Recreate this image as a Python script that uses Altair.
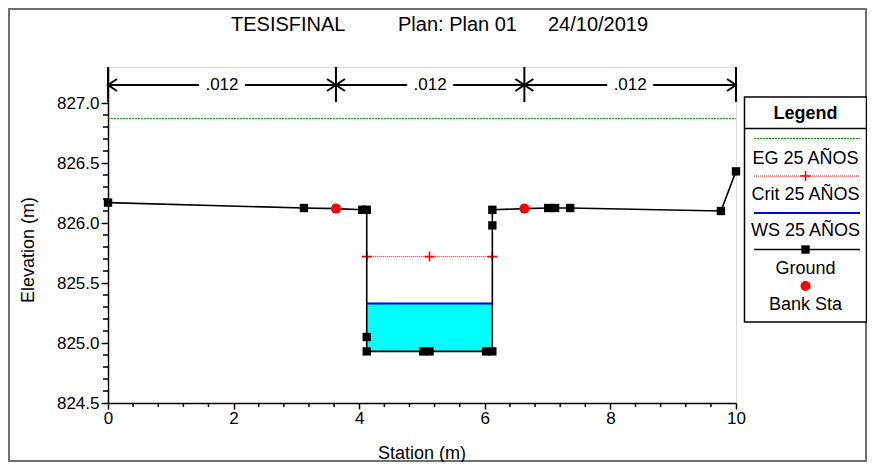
import altair as alt
import pandas as pd

FONT = "Liberation Sans"

# ---------------- data ----------------
ground_station = [0.0, 3.12, 3.63, 4.05, 4.12, 4.12, 4.12, 5.02, 5.12, 6.02, 6.12,
                  6.12, 6.12, 6.63, 7.01, 7.12, 7.36, 9.76, 10.0]
ground_elev = [826.17, 826.125, 826.12, 826.11, 826.11, 825.05, 824.93, 824.93, 824.93,
               824.93, 824.93, 825.98, 826.11, 826.12, 826.125, 826.125, 826.125,
               826.10, 826.43]

bank_station = [3.63, 6.63]
bank_elev = [826.12, 826.12]

eg_station = [0.0, 10.0]
eg_elev = [826.87, 826.87]

crit_station = [4.12, 5.12, 6.12]
crit_elev = [825.72, 825.72, 825.72]

ws_station = [4.12, 6.12]
ws_elev = [825.33, 825.33]
channel_bottom = [824.93, 824.93]

n_breaks = [0.0, 3.63, 6.63, 10.0]
n_values = [".012", ".012", ".012"]

x_ticks = [0, 2, 4, 6, 8, 10]
x_minor = [0.4, 0.8, 1.2, 1.6, 2.4, 2.8, 3.2, 3.6, 4.4, 4.8, 5.2, 5.6,
           6.4, 6.8, 7.2, 7.6, 8.4, 8.8, 9.2, 9.6]
y_ticks = [824.5, 825.0, 825.5, 826.0, 826.5, 827.0]
y_minor = [824.6, 824.7, 824.8, 824.9, 825.1, 825.2, 825.3, 825.4, 825.6, 825.7,
           825.8, 825.9, 826.1, 826.2, 826.3, 826.4, 826.6, 826.7, 826.8, 826.9]

legend_labels = ["EG 25 AÑOS", "Crit 25 AÑOS", "WS 25 AÑOS", "Ground", "Bank Sta"]

# ---------------- tables ----------------
ground_df = pd.DataFrame({"station": ground_station, "elev": ground_elev,
                          "i": list(range(len(ground_station)))})
ground_df["marker"] = ~ground_df["station"].isin(bank_station)
bank_df = pd.DataFrame({"station": bank_station, "elev": bank_elev})
eg_df = pd.DataFrame({"station": eg_station, "elev": eg_elev})
crit_df = pd.DataFrame({"station": crit_station, "elev": crit_elev})
ws_df = pd.DataFrame({"station": ws_station, "elev": ws_elev, "bottom": channel_bottom})
n_df = pd.DataFrame({"start": n_breaks[:-1], "end": n_breaks[1:], "label": n_values})
n_df["mid"] = (n_df["start"] + n_df["end"]) / 2
breaks_df = pd.DataFrame({"station": n_breaks})
xminor_df = pd.DataFrame({"station": x_minor})
yminor_df = pd.DataFrame({"elev": y_minor})
one = pd.DataFrame({"k": [0]})

W, H = 628, 336
xscale = alt.Scale(domain=[0, 10], nice=False, zero=False)
yscale = alt.Scale(domain=[824.5, 827.3], nice=False, zero=False)

xaxis = alt.Axis(values=x_ticks, tickSize=6, tickWidth=1.5, domainWidth=1.5,
                 domainColor="black", tickColor="black", labelFont=FONT,
                 labelFontSize=17, labelColor="black", labelPadding=1, grid=False,
                 title=None, labelFlush=False, format="d")
yaxis = alt.Axis(values=y_ticks, tickSize=7, tickWidth=1.5, domainWidth=1.5,
                 domainColor="black", tickColor="black", labelFont=FONT,
                 labelFontSize=17, labelColor="black", labelPadding=2, grid=False,
                 title=None, format=".1f")


def X(f="station"):
    return alt.X(f"{f}:Q", scale=xscale, axis=xaxis, title=None)


def Y(f="elev"):
    return alt.Y(f"{f}:Q", scale=yscale, axis=yaxis, title=None)


layers = []

# EG line (also carries both axes)
layers.append(alt.Chart(eg_df).mark_line(color="#00a000", strokeWidth=1, strokeDash=[2, 1]).encode(
    x=X(), y=Y()))

# outer frame
layers.append(alt.Chart(one).mark_rect(filled=False, stroke="#707070", strokeWidth=2).encode(
    x=alt.value(-99), x2=alt.value(758), y=alt.value(-58), y2=alt.value(394)))

# WS fill + line
layers.append(alt.Chart(ws_df).mark_area(color="#00ffff", opacity=1).encode(
    x=X(), y=Y(), y2="bottom:Q"))
layers.append(alt.Chart(ws_df).mark_line(color="#0000ff", strokeWidth=2).encode(
    x=X(), y=Y()))

# Crit line
layers.append(alt.Chart(crit_df).mark_line(color="#ff0000", strokeWidth=1, strokeDash=[1, 1]).encode(
    x=X(), y=Y()))
PLUS = "M -1 0 L 1 0 M 0 -1 L 0 1"
layers.append(alt.Chart(crit_df).mark_point(shape=PLUS, filled=False, color="#ff0000",
                                            strokeWidth=1.6, size=100, opacity=1).encode(
    x=X(), y=Y()))

# Ground
layers.append(alt.Chart(ground_df).mark_line(color="black", strokeWidth=1.6).encode(
    x=X(), y=Y(), order="i:Q"))
layers.append(alt.Chart(ground_df).transform_filter("datum.marker").mark_point(
    shape="square", filled=True, color="black", size=70, opacity=1).encode(x=X(), y=Y()))
# Bank stations
layers.append(alt.Chart(bank_df).mark_point(shape="circle", filled=True, color="#ff0000",
                                            size=100, opacity=1).encode(x=X(), y=Y()))

# minor ticks
layers.append(alt.Chart(yminor_df).mark_rule(color="black", strokeWidth=1.5).encode(
    y=Y(), x=alt.value(-5), x2=alt.value(0)))
layers.append(alt.Chart(xminor_df).mark_rule(color="black", strokeWidth=1.5).encode(
    x=X(), y=alt.value(H), y2=alt.value(H + 4)))

# Manning's n annotation
layers.append(alt.Chart(breaks_df).mark_rule(color="black", strokeWidth=2).encode(
    x=X(), y=alt.value(0), y2=alt.value(35)))
layers.append(alt.Chart(n_df).mark_rule(color="black", strokeWidth=2).encode(
    x=X("start"), x2="end:Q", y=alt.value(18)))
RECT = "M -1 -0.25 L 1 -0.25 L 1 0.25 L -1 0.25 Z"
layers.append(alt.Chart(n_df).mark_point(shape=RECT, filled=True, color="white",
                                         size=2116, opacity=1, strokeWidth=0).encode(
    x=X("mid"), y=alt.value(18)))
layers.append(alt.Chart(n_df).mark_text(font=FONT, fontSize=17, color="black",
                                        baseline="middle", align="center").encode(
    x=X("mid"), y=alt.value(18), text="label:N"))
LEFT_HEAD = "M 1.5 -1 L 0 0 L 1.5 1"
RIGHT_HEAD = "M -1.5 -1 L 0 0 L -1.5 1"
layers.append(alt.Chart(n_df).mark_point(shape=LEFT_HEAD, filled=False, color="black",
                                         strokeWidth=2, size=144, opacity=1).encode(
    x=X("start"), y=alt.value(18)))
layers.append(alt.Chart(n_df).mark_point(shape=RIGHT_HEAD, filled=False, color="black",
                                         strokeWidth=2, size=144, opacity=1).encode(
    x=X("end"), y=alt.value(18)))


def txt(s, x, y, size=17, align="center", weight="normal", angle=0):
    return alt.Chart(one).mark_text(text=s, fontSize=size, font=FONT, align=align,
                                    baseline="middle", fontWeight=weight, angle=angle,
                                    color="black").encode(x=alt.value(x), y=alt.value(y))


# titles
layers.append(txt("TESISFINAL", 123, -42, size=20, align="left"))
layers.append(txt("Plan: Plan 01", 290, -42, size=20, align="left"))
layers.append(txt("24/10/2019", 440, -42, size=20, align="left"))
layers.append(txt("Station (m)", W / 2, 387, size=18))
layers.append(txt("Elevation (m)", -79, 183, size=18, angle=270))

# legend
LX0, LX1, LC = 636.5, 758.5, 697.5
layers.append(alt.Chart(one).mark_rect(fill="white", stroke="black", strokeWidth=1.5).encode(
    x=alt.value(LX0), x2=alt.value(LX1), y=alt.value(30), y2=alt.value(255)))
layers.append(alt.Chart(one).mark_rule(color="black", strokeWidth=1.5).encode(
    x=alt.value(LX0), x2=alt.value(LX1), y=alt.value(61.5)))
layers.append(txt("Legend", LC, 47, size=18, weight="bold"))


def lline(y, color, width=1.5, dash=None):
    kw = dict(color=color, strokeWidth=width)
    if dash:
        kw["strokeDash"] = dash
    return alt.Chart(one).mark_rule(**kw).encode(
        x=alt.value(646), x2=alt.value(752), y=alt.value(y))


def lsym(y, shape, color, size, filled=True, sw=1):
    return alt.Chart(one).mark_point(shape=shape, filled=filled, color=color, size=size,
                                     opacity=1, strokeWidth=sw).encode(
        x=alt.value(LC), y=alt.value(y))


layers.append(lline(71.5, "#00a000", 1, [2, 1]))
layers.append(txt(legend_labels[0], LC, 91.5, size=18))
layers.append(lline(109, "#ff0000", 1, [1, 1]))
layers.append(lsym(109, PLUS, "#ff0000", 100, filled=False, sw=1.6))
layers.append(txt(legend_labels[1], LC, 127.5, size=18))
layers.append(lline(146, "#0000ff", 2))
layers.append(txt(legend_labels[2], LC, 163.5, size=18))
layers.append(lline(182.5, "black", 1.6))
layers.append(lsym(182.5, "square", "black", 70))
layers.append(txt(legend_labels[3], LC, 201.5, size=18))
layers.append(lsym(219, "circle", "#ff0000", 100))
layers.append(txt(legend_labels[4], LC, 237.5, size=18))

chart = alt.layer(*layers).properties(
    width=W, height=H,
    autosize=alt.AutoSizeParams(type="none"),
    padding={"left": 100, "top": 59, "right": 131, "bottom": 59},
).configure_view(stroke=None).configure(background="white")

chart.save("out.html", embed_options={"renderer": "svg", "actions": False})
